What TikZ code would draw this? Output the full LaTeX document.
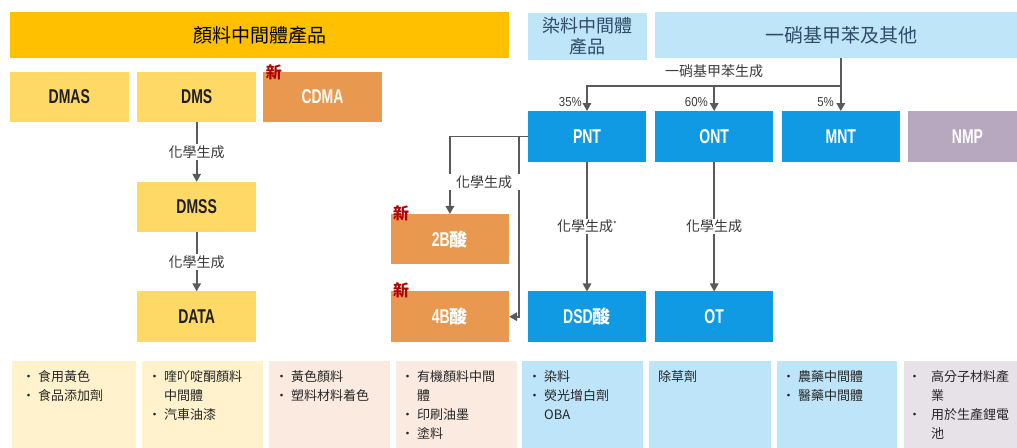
\documentclass[tikz,border=0pt]{standalone}
\usepackage{fontspec}
\setmainfont{Liberation Sans}
\newfontfamily\cjk{Noto Sans CJK TC}
\newfontfamily\lab[FakeStretch=0.7]{Liberation Sans}
\newfontfamily\pctf[FakeStretch=0.88]{Liberation Sans}
\usetikzlibrary{arrows.meta,calc}
\definecolor{topY}{HTML}{FFC000}
\definecolor{boxY}{HTML}{FFD966}
\definecolor{orng}{HTML}{E8994F}
\definecolor{blueC}{HTML}{109AE3}
\definecolor{ltblue}{HTML}{BFE5F9}
\definecolor{nmpC}{HTML}{B7A8BF}
\definecolor{btmY}{HTML}{FFF2CC}
\definecolor{btmP}{HTML}{FBEADF}
\definecolor{btmB}{HTML}{BDE4F8}
\definecolor{btmL}{HTML}{E7E1E8}
\definecolor{arrC}{HTML}{5A5A5A}
\definecolor{txtG}{HTML}{3A3A3A}
\definecolor{hdrT}{HTML}{2E4A68}
\definecolor{newR}{HTML}{B00000}
\newcommand\bl{\makebox[13pt][l]{\hspace*{-3pt}\textbullet}}
\newcommand\blw{\makebox[20pt][l]{\hspace*{-3pt}\textbullet}}
\tikzset{
 bx/.style={minimum width=118.5pt, minimum height=50.5pt, inner sep=0pt, outer sep=0pt, font=\lab\fontsize{20}{20}\selectfont\bfseries},
 ylw/.style={bx, fill=boxY, text=black!88},
 org/.style={bx, fill=orng, text=white},
 blu/.style={bx, fill=blueC, text=white},
 arr/.style={draw=arrC, line width=1.6pt, -{Triangle[width=8.5pt,length=8pt]}},
 lbl/.style={fill=white, inner sep=1.5pt, text=txtG, font=\cjk\fontsize{14}{14}\selectfont},
 pct/.style={anchor=east, inner sep=0pt, text=txtG, font=\pctf\fontsize{13}{13}\selectfont},
 newl/.style={text=newR, font=\cjk\bfseries\fontsize{16}{16}\selectfont, inner sep=0pt},
 ubox/.style={inner sep=0pt, outer sep=0pt, anchor=north west},
 btm/.style={anchor=north west, inner sep=0pt, align=left, font=\cjk\fontsize{13}{19}\selectfont, text=black!85}
}
\begin{document}
\begin{tikzpicture}[x=1pt,y=-1pt]
\useasboundingbox (0,0) rectangle (1017,447);
\clip (0,0) rectangle (1017,447);
% headers
\node[fill=topY, minimum width=499pt, minimum height=46pt, inner sep=0pt, font=\cjk\fontsize{19}{19}\selectfont] (hA) at (259.5,35) {顏料中間體產品};
\node[fill=ltblue, minimum width=119pt, minimum height=47.5pt, inner sep=0pt, align=center, text=hdrT, font=\cjk\fontsize{18}{21.5}\selectfont] (hB) at (587,36.3) {染料中間體\\產品};
\node[fill=ltblue, minimum width=372pt, minimum height=46pt, inner sep=0pt, text=hdrT, font=\cjk\fontsize{19}{19}\selectfont] (hC) at (841,35) {一硝基甲苯及其他};
% row 1
\node[ylw] (dmas) at (69.3,97) {DMAS};
\node[ylw] (dms) at (196.7,97) {DMS};
\node[org] (cdma) at (322.5,97) {CDMA};
\node[blu] (pnt) at (587,136.3) {PNT};
\node[blu] (ont) at (714.2,136.3) {ONT};
\node[blu] (mnt) at (840.8,136.3) {MNT};
\node[bx, fill=nmpC, text=white] (nmp) at (967.5,136.3) {NMP};
% lower boxes
\node[ylw] (dmss) at (196.7,207) {DMSS};
\node[ylw] (data) at (196.7,316.5) {DATA};
\node[org] (b2) at (449.9,239.2) {2B{\cjk\bfseries\fontsize{18}{18}\selectfont 酸}};
\node[org] (b4) at (449.9,316.7) {4B{\cjk\bfseries\fontsize{18}{18}\selectfont 酸}};
\node[blu] (dsd) at (587,316.7) {DSD{\cjk\bfseries\fontsize{18}{18}\selectfont 酸}};
\node[blu] (ot) at (714.2,316.7) {OT};
% new marks
\node[newl] (n1) at ($(cdma.north west)+(10.5,1)$) {新};
\node[newl] (n2) at ($(b2.north west)+(10.5,-1)$) {新};
\node[newl] (n3) at ($(b4.north west)+(10.5,-1)$) {新};
% connectors
\draw[arr] (dms.south) -- node[lbl] {化學生成} (dmss.north);
\draw[arr] (dmss.south) -- node[lbl] {化學生成} (data.north);
\draw[arr] (pnt.south) -- node[lbl] {化學生成\raisebox{4pt}{\fontsize{8}{8}\selectfont *}} (dsd.north);
\draw[arr] (ont.south) -- node[lbl] {化學生成} (ot.north);
\draw[arr] (mnt.north |- hC.south) -- (mnt.north);
\draw[arr] (mnt.north |- 0,86) -| (pnt.north);
\draw[arr] (ont.north |- 0,86) -- (ont.north);
\draw[arr] (pnt.west) -| (b2.north);
\draw[arr] ([xshift=-9pt]pnt.west) |- (b4.east);
\node[lbl, minimum width=76pt] (lb) at (484,182) {化學生成};
\node[inner sep=0pt, text=txtG, font=\cjk\fontsize{14}{14}\selectfont] (lm) at (714,71) {一硝基甲苯生成};
\node[pct] (p35) at (582,102.5) {35\%};
\node[pct] (p60) at (708,102.5) {60\%};
\node[pct] (p5) at (834,102.5) {5\%};
% bottom boxes
\node[ubox, fill=btmY, minimum width=124.3pt, minimum height=87pt] (u1) at (11.7,360.7) {};
\node[ubox, fill=btmY, minimum width=121pt, minimum height=87pt] (u2) at (141.7,360.7) {};
\node[ubox, fill=btmP, minimum width=120.7pt, minimum height=87pt] (u3) at (269.3,360.7) {};
\node[ubox, fill=btmP, minimum width=120.5pt, minimum height=87pt] (u4) at (396,360.7) {};
\node[ubox, fill=btmB, minimum width=121.6pt, minimum height=87pt] (u5) at (521.7,360.7) {};
\node[ubox, fill=btmB, minimum width=121.7pt, minimum height=87pt] (u6) at (649,360.7) {};
\node[ubox, fill=btmB, minimum width=120pt, minimum height=87pt] (u7) at (776.7,360.7) {};
\node[ubox, fill=btmL, minimum width=121pt, minimum height=87pt] (u8) at (904,360.7) {};
\node[btm] (t1) at (25,370) {\bl 食用黃色\\\bl 食品添加劑};
\node[btm] (t2) at (151,370) {\bl 喹吖啶酮顏料\\\hspace*{13pt}中間體\\\bl 汽車油漆};
\node[btm] (t3) at (278,370) {\bl 黃色顏料\\\bl 塑料材料着色};
\node[btm] (t4) at (404,370) {\bl 有機顏料中間\\\hspace*{13pt}體\\\bl 印刷油墨\\\bl 塗料};
\node[btm] (t5) at (531,370) {\bl 染料\\\bl 熒光增白劑\\\hspace*{13pt}OBA};
\node[btm] (t6) at (658,370) {除草劑};
\node[btm] (t7) at (785,370) {\bl 農藥中間體\\\bl 醫藥中間體};
\node[btm] (t8) at (911,370) {\blw 高分子材料產\\\hspace*{20pt}業\\\blw 用於生產鋰電\\\hspace*{20pt}池};
\end{tikzpicture}
\end{document}
